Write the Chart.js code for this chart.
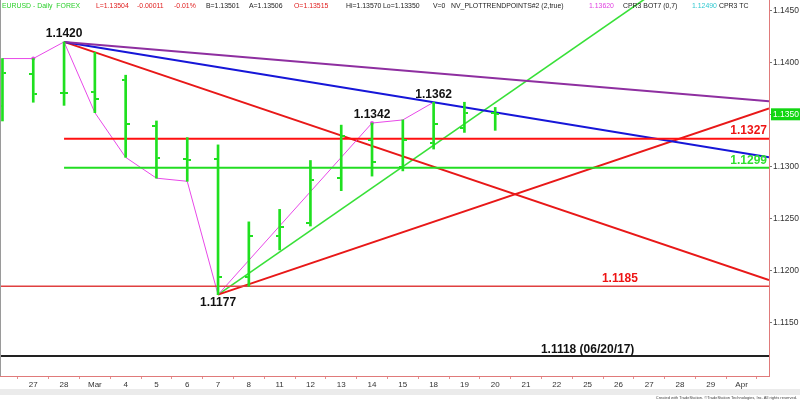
<!DOCTYPE html>
<html>
<head>
<meta charset="utf-8">
<title>EURUSD Daily</title>
<script src="https://cdn.jsdelivr.net/npm/chart.js@4.4.1/dist/chart.umd.min.js"></script>
<style>
    html, body { margin: 0; padding: 0; background: #fff; }
    #wrap { position: relative; width: 800px; height: 402px; overflow: hidden; font-family: "Liberation Sans", Arial, sans-serif; }
    #priceChart { position: absolute; left: 0; top: 0; }
    .hd { position: absolute; top: 1px; font-size: 6.9px; line-height: 10px; white-space: pre; }
    #scrollbar { position: absolute; left: 0; top: 389px; width: 800px; height: 6px; background: #ebebeb; }
    #footer { position: absolute; right: 3px; top: 395px; font-size: 4px; line-height: 6px; color: #444; white-space: nowrap; }
</style>
</head>
<body>
<div id="wrap">
    <canvas id="priceChart" width="800" height="402"></canvas>
    <div id="header"></div>
    <div id="scrollbar"></div>
    <div id="footer">Created with TradeStation. ©TradeStation Technologies, Inc. All rights reserved.</div>
</div>
<script>
// Trading days (Feb 26 .. Apr 1)
const dayLabels = ['26', '27', '28', 'Mar', '4', '5', '6', '7', '8', '11', '12', '13', '14', '15',
    '18', '19', '20', '21', '22', '25', '26', '27', '28', '29', 'Apr'];
const labelDays = [1, 2, 3, 4, 5, 6, 7, 8, 9, 10, 11, 12, 13, 14, 15, 16, 17, 18, 19, 20, 21, 22, 23, 24];

// Daily OHLC
const opens  = [1.1358, 1.1389, 1.1371, 1.1372, 1.1383, 1.1339, 1.1307, 1.1307, 1.1194, 1.1233, 1.1246, 1.1289, 1.1326, 1.1300, 1.1323, 1.1337, 1.13515];
const highs  = [1.1404, 1.1404, 1.1420, 1.1410, 1.1388, 1.1344, 1.1328, 1.1321, 1.1247, 1.1259, 1.1306, 1.1340, 1.1342, 1.1345, 1.1362, 1.1362, 1.1357];
const lows   = [1.1344, 1.1362, 1.1359, 1.1352, 1.1309, 1.1289, 1.1286, 1.1177, 1.1185, 1.1220, 1.1243, 1.1277, 1.1291, 1.1296, 1.1317, 1.1333, 1.1335];
const closes = [1.1390, 1.1370, 1.1371, 1.1365, 1.1341, 1.1308, 1.1306, 1.1194, 1.1233, 1.1242, 1.1287, 1.1330, 1.1305, 1.1326, 1.1341, 1.1352, 1.13504];

// Trend points indicator (zigzag)
const zigzag = [1.1404, 1.1404, 1.1420, 1.1352, 1.1309, 1.1289, 1.1286, 1.1177, null, null, null, null, 1.1342, 1.1345, 1.1362];
const zigzagDots = [1, 12];

// Swing labels
const pivotDays = [2, 7, 12, 14];
const pivotKinds = ['H', 'L', 'H', 'H'];

// Trend lines [day, price]
const purpleLine = [[2, 1.1420], [24.89, 1.1363]];
const blueLine = [[2, 1.1420], [14, 1.1362], [24.89, 1.1309]];
const redDownLine = [[2, 1.1420], [24.89, 1.1191]];
const redUpLine = [[7, 1.1177], [24.89, 1.1356]];
const greenUpLine = [[7, 1.1177], [24.89, 1.1544]];

// Horizontal levels
const levelPrices = [1.1327, 1.1299, 1.1185, 1.1118];
const levelFrom = [2, 2, -0.08, -0.08];
const levelNotes = ['', '', '', ' (06/20/17)'];

// Price axis
const priceTicks = [1.1150, 1.1200, 1.1250, 1.1300, 1.1350, 1.1400, 1.1450];

const X_MIN = -0.08;
const X_MAX = 24.89;
const FONT = '"Liberation Sans", Arial, sans-serif';
const BAR_GREEN = '#1fe01f';

class EurUsdChart {
    constructor() {
        this.chart = null;
        this.init();
    }

    init() {
        this.buildHeader();
        this.drawChart();
    }

    buildHeader() {
        const parts = [
            ['EURUSD - Daily  FOREX', '#2ccf2c', 2],
            ['L=1.13504', '#e02020', 96],
            ['-0.00011', '#e02020', 137],
            ['-0.01%', '#e02020', 174],
            ['B=1.13501', '#222', 206],
            ['A=1.13506', '#222', 249],
            ['O=1.13515', '#e02020', 294],
            ['Hi=1.13570', '#222', 346],
            ['Lo=1.13350', '#222', 383],
            ['V=0', '#222', 433],
            ['NV_PLOTTRENDPOINTS#2 (2,true)', '#222', 451],
            ['1.13620', '#e040e0', 589],
            ['CPR3 BOT7 (0,7)', '#222', 623],
            ['1.12490', '#30c8d0', 692],
            ['CPR3 TC', '#222', 719]
        ];
        document.getElementById('header').innerHTML = parts.map(([text, color, left]) =>
            `<span class="hd" style="left:${left}px;color:${color}">${text}</span>`).join('');
    }

    makeTick(side) {
        const c = document.createElement('canvas');
        c.width = 8;
        c.height = 2;
        const g = c.getContext('2d');
        g.fillStyle = BAR_GREEN;
        if (side === 'left') g.fillRect(0, 0, 3, 2);
        else g.fillRect(5, 0, 3, 2);
        return c;
    }

    toPoints(pairs) {
        return pairs.map(([x, y]) => ({ x, y }));
    }

    lineSet(data, color, width) {
        return {
            type: 'line',
            data,
            borderColor: color,
            borderWidth: width,
            pointRadius: 0,
            tension: 0,
            fill: false
        };
    }

    buildDatasets() {
        const openTick = this.makeTick('left');
        const closeTick = this.makeTick('right');

        const levels = levelPrices.map((p, k) => {
            const colors = ['#ff1010', '#22dd22', '#e04040', '#222222'];
            const widths = [2, 2, 1.5, 2];
            return this.lineSet([{ x: levelFrom[k], y: p }, { x: X_MAX, y: p }], colors[k], widths[k]);
        });

        return [
            {
                type: 'line',
                data: opens.map((v, i) => ({ x: i, y: v })),
                showLine: false,
                pointStyle: openTick,
                pointRadius: 3
            },
            {
                type: 'line',
                data: closes.map((v, i) => ({ x: i, y: v })),
                showLine: false,
                pointStyle: closeTick,
                pointRadius: 3
            },
            {
                type: 'bar',
                data: highs.map((h, i) => ({ x: i, y: [lows[i], h] })),
                backgroundColor: BAR_GREEN,
                barThickness: 2,
                grouped: false,
                borderWidth: 0
            },
            ...levels,
            {
                type: 'line',
                data: zigzag.map((v, i) => ({ x: i, y: v })),
                borderColor: '#e848e8',
                backgroundColor: '#e848e8',
                borderWidth: 1,
                spanGaps: true,
                tension: 0,
                pointRadius: zigzag.map((v, i) => zigzagDots.includes(i) ? 2 : 0),
                pointBorderWidth: 0
            },
            this.lineSet(this.toPoints(purpleLine), '#8e2fa0', 2),
            this.lineSet(this.toPoints(blueLine), '#1616d8', 2),
            this.lineSet(this.toPoints(redDownLine), '#e81818', 2),
            this.lineSet(this.toPoints(redUpLine), '#e81818', 2),
            this.lineSet(this.toPoints(greenUpLine), '#38e038', 1.6)
        ];
    }

    overlayPlugin() {
        return {
            id: 'overlay',
            afterDraw: (chart) => {
                const { ctx, chartArea, scales: { x, y } } = chart;
                ctx.save();

                // left frame
                ctx.strokeStyle = '#9a9a9a';
                ctx.lineWidth = 1;
                ctx.beginPath();
                ctx.moveTo(chartArea.left + 0.5, chartArea.top);
                ctx.lineTo(chartArea.left + 0.5, chartArea.bottom);
                ctx.stroke();

                // swing labels
                ctx.font = `bold 12px ${FONT}`;
                ctx.textAlign = 'center';
                ctx.textBaseline = 'middle';
                ctx.fillStyle = '#111';
                pivotDays.forEach((d, k) => {
                    const isHigh = pivotKinds[k] === 'H';
                    const price = isHigh ? highs[d] : lows[d];
                    const py = y.getPixelForValue(price) + (isHigh ? -8 : 8);
                    ctx.fillText(price.toFixed(4), x.getPixelForValue(d), py);
                });

                // level labels
                const levelColors = ['#ee1414', '#2ee02e', '#ee1414', '#111'];
                const levelAt = [null, null, 20.05, 19];
                levelPrices.forEach((p, k) => {
                    ctx.fillStyle = levelColors[k];
                    const py = y.getPixelForValue(p) - (k === 3 ? 6 : 7.5);
                    if (levelAt[k] === null) {
                        ctx.textAlign = 'right';
                        ctx.fillText(p.toFixed(4) + levelNotes[k], chartArea.right - 2, py);
                    } else {
                        ctx.textAlign = 'center';
                        ctx.fillText(p.toFixed(4) + levelNotes[k], x.getPixelForValue(levelAt[k]), py);
                    }
                });

                // last price box on the axis
                const last = closes[closes.length - 1];
                const ly = y.getPixelForValue(last);
                ctx.fillStyle = '#12d612';
                ctx.fillRect(chartArea.right + 2, ly - 6, 800 - chartArea.right - 2, 12);
                ctx.fillStyle = '#fff';
                ctx.font = `8.5px ${FONT}`;
                ctx.textAlign = 'left';
                ctx.fillText(last.toFixed(4), chartArea.right + 4, ly + 0.5);

                ctx.restore();
            }
        };
    }

    drawChart() {
        const ctx = document.getElementById('priceChart').getContext('2d');
        if (this.chart) this.chart.destroy();

        this.chart = new Chart(ctx, {
            data: { datasets: this.buildDatasets() },
            options: {
                responsive: false,
                animation: false,
                devicePixelRatio: 1,
                layout: { padding: 0, autoPadding: false },
                plugins: {
                    legend: { display: false },
                    tooltip: { enabled: false }
                },
                scales: {
                    x: {
                        type: 'linear',
                        min: X_MIN,
                        max: X_MAX,
                        offset: false,
                        afterBuildTicks: (scale) => {
                            scale.ticks = labelDays.map(v => ({ value: v }));
                        },
                        afterFit: (scale) => {
                            scale.height = 26;
                            scale.paddingLeft = 0;
                            scale.paddingRight = 0;
                        },
                        ticks: {
                            autoSkip: false,
                            maxRotation: 0,
                            padding: 1,
                            color: '#333',
                            font: { family: FONT, size: 8 },
                            callback: (value) => dayLabels[value]
                        },
                        grid: { drawOnChartArea: false, tickLength: 3, color: '#e49090' },
                        border: { color: '#e07a7a', width: 1 }
                    },
                    y: {
                        type: 'linear',
                        position: 'right',
                        min: 1.10988,
                        max: 1.14603,
                        afterBuildTicks: (scale) => {
                            scale.ticks = priceTicks.map(v => ({ value: v }));
                        },
                        afterFit: (scale) => {
                            scale.width = 31;
                            scale.paddingTop = 0;
                            scale.paddingBottom = 0;
                        },
                        ticks: {
                            padding: 1,
                            color: '#333',
                            font: { family: FONT, size: 8.5 },
                            callback: (value) => value.toFixed(4)
                        },
                        grid: { drawOnChartArea: false, tickLength: 3, color: '#777' },
                        border: { color: '#e07a7a', width: 1 }
                    }
                }
            },
            plugins: [this.overlayPlugin()]
        });
    }
}

document.addEventListener('DOMContentLoaded', () => {
    window.eurUsdChart = new EurUsdChart();
});
</script>
</body>
</html>
